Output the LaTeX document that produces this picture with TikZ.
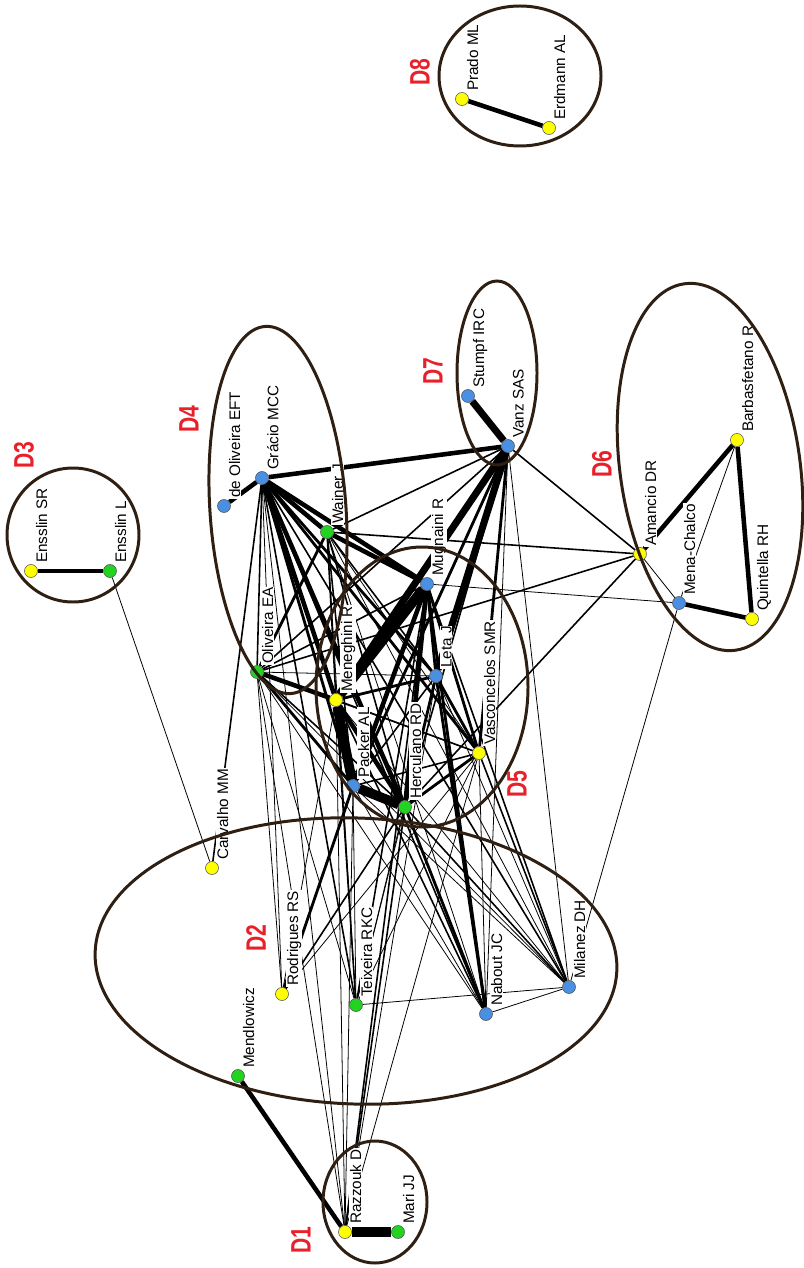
\documentclass[tikz,border=0pt]{standalone}
\usepackage{fontspec}
\setmainfont{Liberation Sans}
\definecolor{NetYellow}{HTML}{FFFF00}
\definecolor{NetGreen}{HTML}{22D322}
\definecolor{NetBlue}{HTML}{4A90E2}
\definecolor{RingBrown}{HTML}{2E1F12}
\definecolor{GroupRed}{HTML}{E8202A}
\usetikzlibrary{positioning}
\pgfdeclarelayer{edges}
\pgfdeclarelayer{names}
\pgfsetlayers{edges,names,main}

\begin{document}
\begin{tikzpicture}[x=0.2mm, y=-0.2mm,
    person/.style={circle, draw=black!70, line width=0.3pt, minimum size=2.6mm, inner sep=0pt},
    who/.style={rotate=90, anchor=north west, fill=white, inner sep=0.4pt,
                font=\fontsize{8.7}{9}\selectfont},
    ring/.style={draw=RingBrown, line width=1.7pt},
    dlabel/.style={rotate=90, text=GroupRed, font=\fontsize{16}{16}\selectfont\bfseries},
    e0/.style={line width=0.45pt},
    e1/.style={line width=0.9pt},
    e2/.style={line width=1.6pt},
    e3/.style={line width=2.6pt},
    e4/.style={line width=4pt},
    e5/.style={line width=5.5pt}]
      \useasboundingbox (0,0) rectangle (803,1268);
      % Authors (yellow)
      \node[person, fill=NetYellow] (raz)  at (345,1232) {};
      \node[person, fill=NetYellow] (rodr) at (282,994) {};
      \node[person, fill=NetYellow] (carv) at (212,868) {};
      \node[person, fill=NetYellow] (mene) at (336,700) {};
      \node[person, fill=NetYellow] (vasc) at (479,753) {};
      \node[person, fill=NetYellow] (aman) at (640,554) {};
      \node[person, fill=NetYellow] (barb) at (737,440) {};
      \node[person, fill=NetYellow] (quin) at (752,619) {};
      \node[person, fill=NetYellow] (enSR) at (31,571) {};
      \node[person, fill=NetYellow] (prad) at (462,99) {};
      \node[person, fill=NetYellow] (erdm) at (549,128) {};
      % Authors (green)
      \node[person, fill=NetGreen] (mari) at (398,1232) {};
      \node[person, fill=NetGreen] (mend) at (238,1076) {};
      \node[person, fill=NetGreen] (teix) at (356,1005) {};
      \node[person, fill=NetGreen] (herc) at (405,807) {};
      \node[person, fill=NetGreen] (oliv) at (257,672) {};
      \node[person, fill=NetGreen] (wain) at (327,532) {};
      \node[person, fill=NetGreen] (enL)  at (110,571) {};
      % Authors (blue)
      \node[person, fill=NetBlue] (nabo) at (486,1014) {};
      \node[person, fill=NetBlue] (mila) at (569,987) {};
      \node[person, fill=NetBlue] (pack) at (353,786) {};
      \node[person, fill=NetBlue] (leta) at (436,676) {};
      \node[person, fill=NetBlue] (mugn) at (427,584) {};
      \node[person, fill=NetBlue] (grac) at (262,478) {};
      \node[person, fill=NetBlue] (deol) at (224,506) {};
      \node[person, fill=NetBlue] (vanz) at (508,446) {};
      \node[person, fill=NetBlue] (stum) at (468,396) {};
      \node[person, fill=NetBlue] (mena) at (679,603) {};
      % Co-authorship ties
      \begin{pgfonlayer}{edges}
      \foreach \a/\b in {raz/mari, mene/mugn, mene/pack, pack/herc}
        \draw[e5] (\a) -- (\b);
      \foreach \a/\b in {stum/vanz, vanz/leta, vanz/mene}
        \draw[e4] (\a) -- (\b);
      \foreach \a/\b in {raz/mend, enSR/enL, prad/erdm, grac/vanz, grac/deol, grac/wain,
          grac/mugn, grac/mene, grac/herc, wain/mugn, oliv/mene, mugn/herc, mugn/pack,
          mene/herc, barb/aman, barb/quin, mena/quin}
        \draw[e3] (\a) -- (\b);
      \foreach \a/\b in {grac/leta, grac/pack, grac/vasc, wain/oliv, oliv/pack,
          mene/leta, mugn/leta, mugn/vasc, pack/rodr, herc/leta, herc/vasc, leta/vasc,
          vanz/pack, vanz/vasc, mugn/nabo, herc/nabo, leta/nabo}
        \draw[e2] (\a) -- (\b);
      \foreach \a/\b in {raz/mugn, raz/herc, carv/grac, vanz/wain, vanz/oliv, vanz/herc,
          vanz/aman, aman/wain, aman/oliv, aman/herc, grac/oliv, grac/teix, grac/nabo,
          grac/mila, wain/mene, wain/leta, wain/pack, wain/herc, oliv/herc, oliv/mugn,
          mene/vasc, mene/nabo, mene/teix, mugn/mila, mugn/teix, pack/leta, pack/vasc,
          herc/mila, herc/rodr, vasc/mila}
        \draw[e1] (\a) -- (\b);
      \foreach \a/\b in {raz/oliv, raz/grac, raz/mene, raz/leta, raz/vasc, raz/pack,
          enL/carv, vanz/nabo, vanz/mila, barb/mena, mena/aman, mena/mila, mena/mugn,
          grac/rodr, wain/vasc, wain/nabo, wain/mila, wain/teix, oliv/leta, oliv/teix,
          oliv/nabo, oliv/mila, oliv/vasc, mene/mila, pack/teix, pack/nabo, pack/mila,
          herc/teix, leta/mila, leta/teix, vasc/nabo, vasc/teix, nabo/mila, teix/mila,
          rodr/vasc, rodr/oliv, rodr/mene}
        \draw[e0] (\a) -- (\b);
      \end{pgfonlayer}
      % Names
      \begin{pgfonlayer}{names}
      \foreach \n/\t in {raz/Razzouk D, mari/Mari JJ, mend/Mendlowicz, rodr/Rodrigues RS,
          teix/Teixeira RKC, nabo/Nabout JC, mila/Milanez DH, carv/Carvalho MM,
          herc/Herculano RD, pack/Packer AL, mene/Meneghini R, oliv/Oliveira EA,
          leta/Leta J, vasc/Vasconcelos SMR, mugn/Mugnaini R, wain/Wainer J,
          grac/Grácio MCC, deol/de Oliveira EFT, vanz/Vanz SAS, stum/Stumpf IRC,
          aman/Amancio DR, mena/Mena-Chalco, barb/Barbasfetano R, quin/Quintella RH,
          enSR/Ensslin SR, enL/Ensslin L, prad/Prado ML, erdm/Erdmann AL}
        \node[who] at ([shift={(4,-7)}]\n) {\t};
      \end{pgfonlayer}
      % Groups D1--D8
      \draw[ring] (375,1202) ellipse [x radius=52, y radius=61];
      \draw[ring, rotate around={-2:(356,961)}] (356,961) ellipse [x radius=261, y radius=143];
      \draw[ring] (73,535) ellipse [x radius=66, y radius=67];
      \draw[ring, rotate around={4:(278,510)}] (278,510) ellipse [x radius=68, y radius=184];
      \draw[ring] (422,687) ellipse [x radius=106, y radius=140];
      \draw[ring, rotate around={8:(710,467)}] (710,467) ellipse [x radius=90, y radius=185];
      \draw[ring] (497,373) ellipse [x radius=40, y radius=92];
      \draw[ring] (520,76) ellipse [x radius=81, y radius=70];
      \node[dlabel] at (301,1240) {\scalebox{0.75}[1]{D1}};
      \node[dlabel] at (256,938) {\scalebox{0.75}[1]{D2}};
      \node[dlabel] at (24,455) {\scalebox{0.75}[1]{D3}};
      \node[dlabel] at (189,419) {\scalebox{0.75}[1]{D4}};
      \node[dlabel] at (517,784) {\scalebox{0.75}[1]{D5}};
      \node[dlabel] at (602,464) {\scalebox{0.75}[1]{D6}};
      \node[dlabel] at (433,371) {\scalebox{0.75}[1]{D7}};
      \node[dlabel] at (420,72) {\scalebox{0.75}[1]{D8}};
\end{tikzpicture}
\end{document}
